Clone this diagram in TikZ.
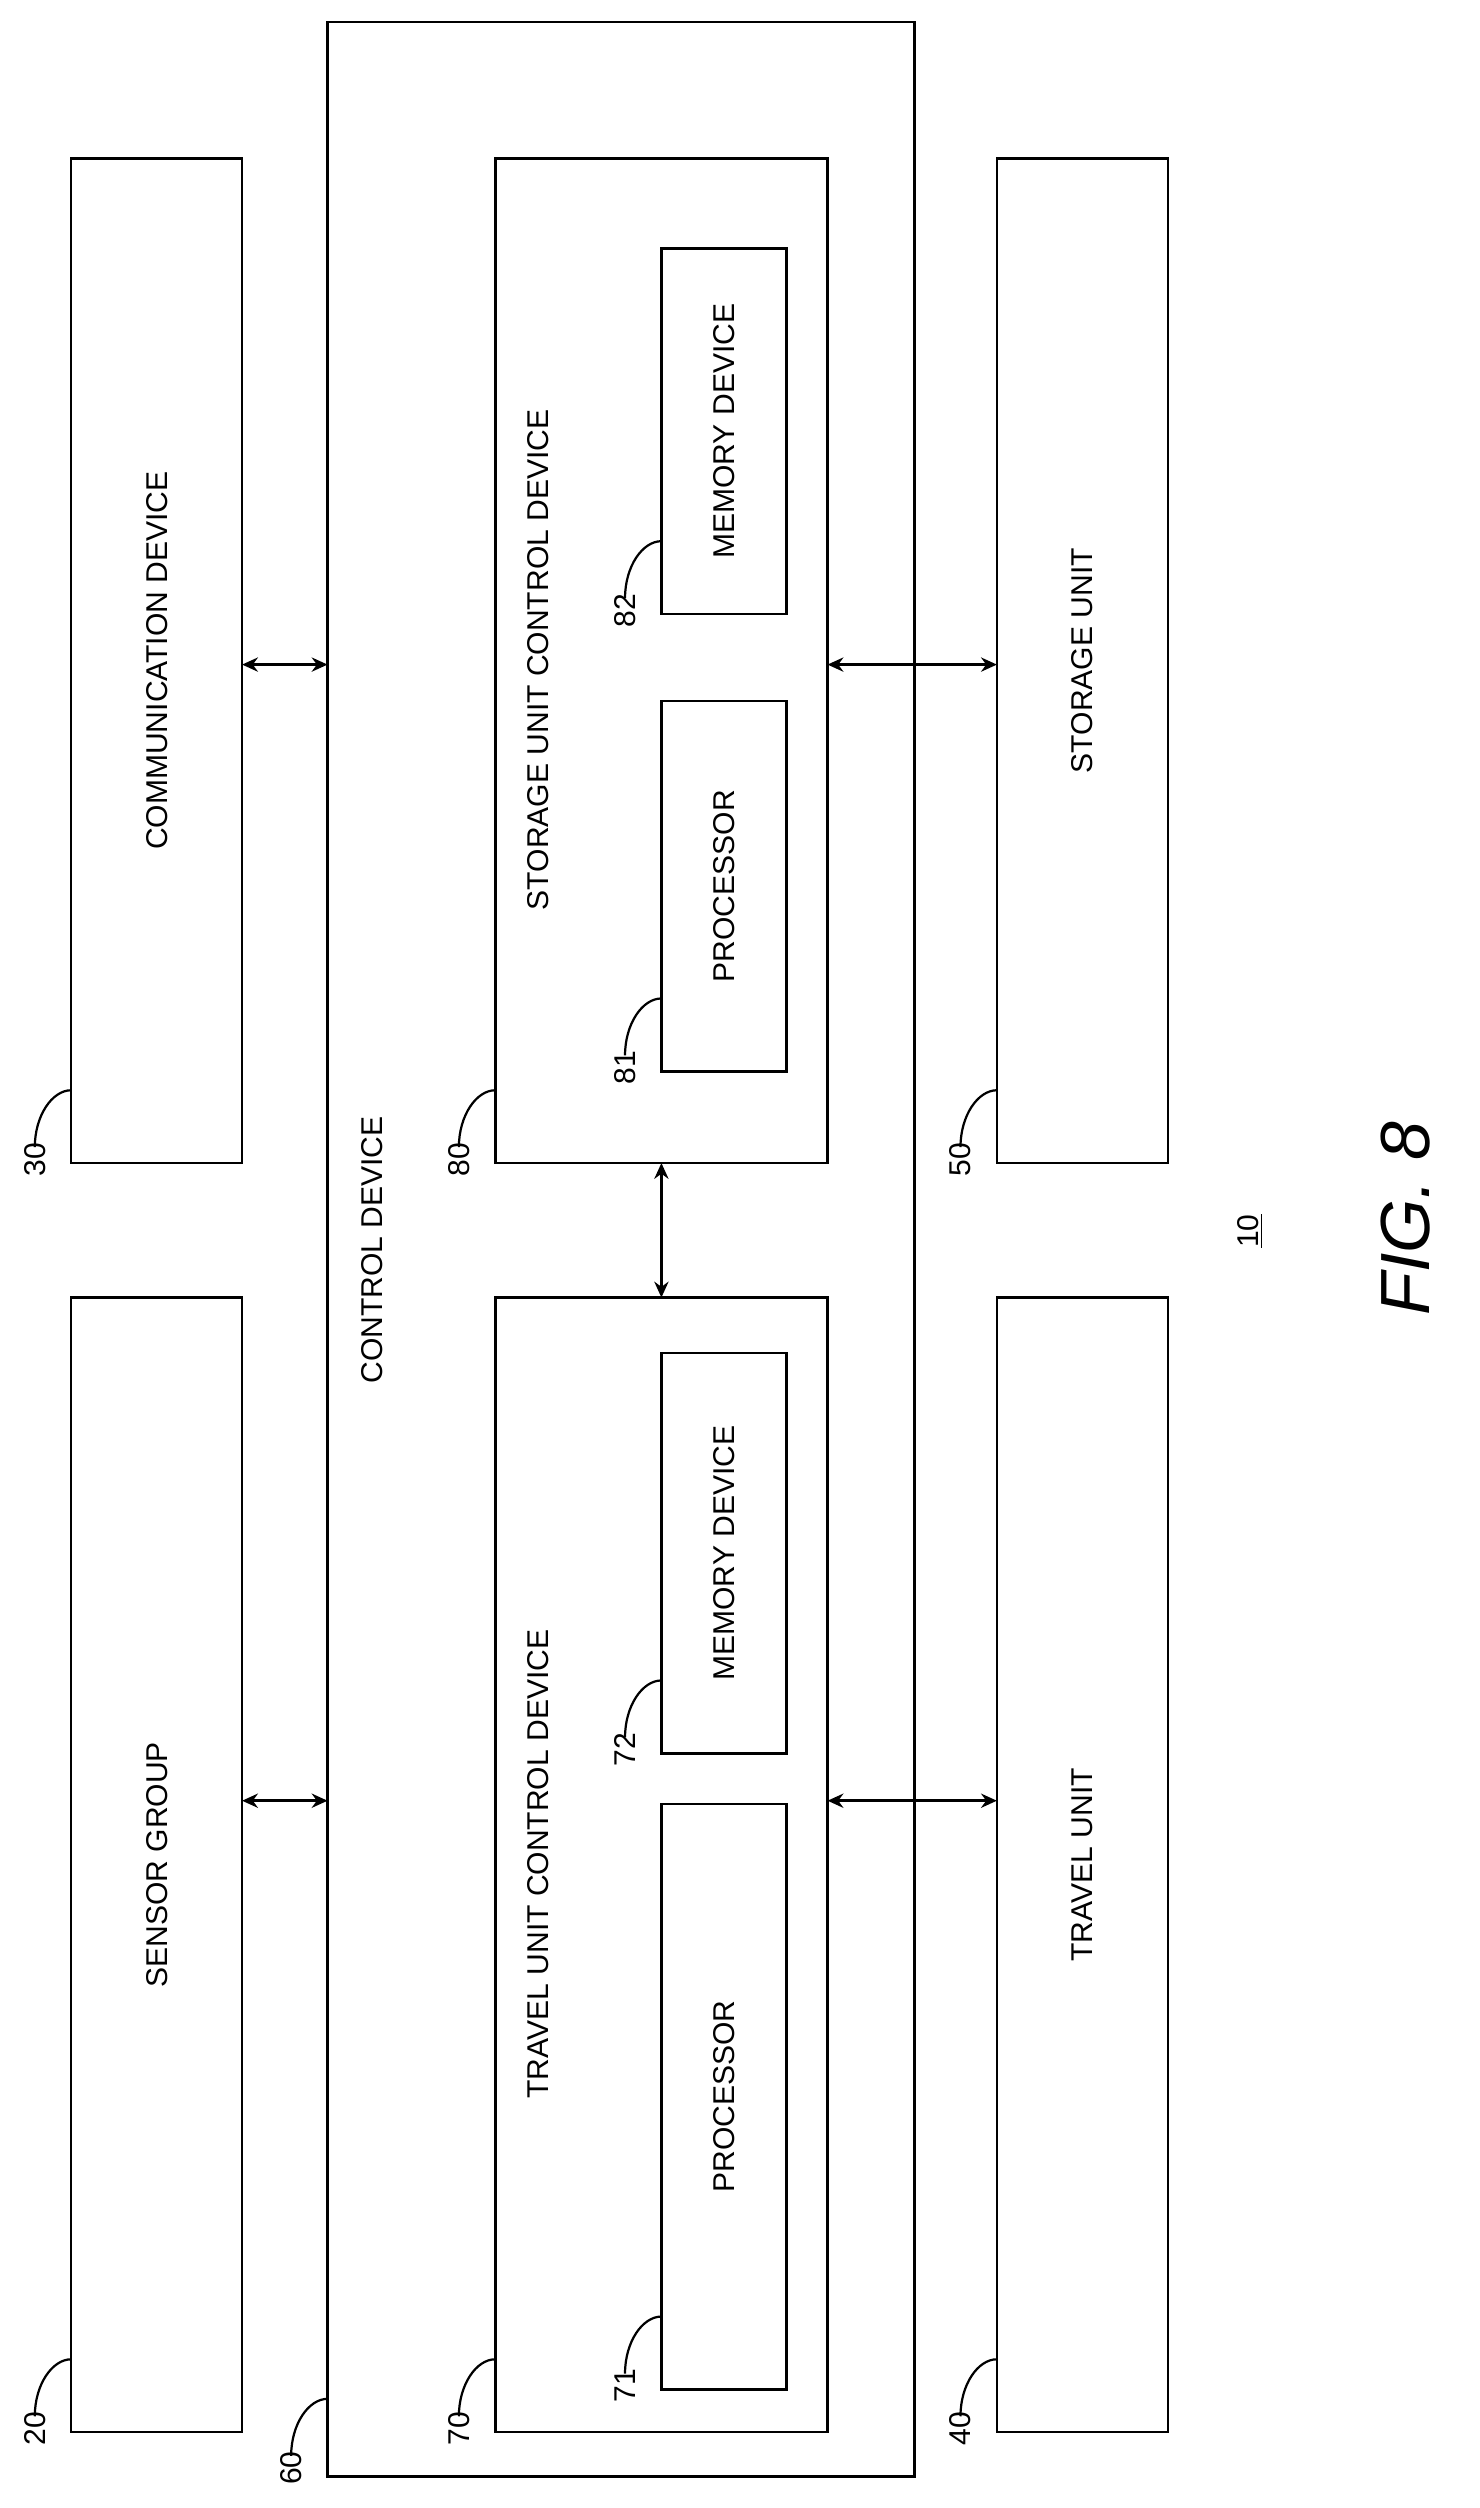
\documentclass[tikz,border=0pt]{standalone}
\usepackage{fontspec}
\setmainfont{Liberation Sans}
\usetikzlibrary{arrows.meta}
\begin{document}
\begin{tikzpicture}[x=1pt,y=-1pt,
 box/.style={draw,line width=1.6pt},
 txt/.style={rotate=90,font=\fontsize{19}{22}\selectfont},
 lbl/.style={rotate=90,font=\fontsize{19}{22}\selectfont,inner sep=1pt},
 arr/.style={{Stealth[length=10pt,width=9pt]}-{Stealth[length=10pt,width=9pt]},line width=1.6pt},
 lead/.style={line width=1.4pt}]
\useasboundingbox (0,0) rectangle (935,1585);
% outer boxes
\node[box,minimum width=108,minimum height=717,inner sep=0] (sg) at (99,1178.5) {};
\node[box,minimum width=108,minimum height=635,inner sep=0] (cd) at (99,417.5) {};
\node[box,minimum width=371,minimum height=1551,inner sep=0] (ctl) at (392.5,789.5) {};
\node[box,minimum width=210,minimum height=717,inner sep=0] (tucd) at (418,1178.5) {};
\node[box,minimum width=210,minimum height=635,inner sep=0] (sucd) at (418,417.5) {};
\node[box,minimum width=79,minimum height=370,inner sep=0] (p71) at (457.5,1325) {};
\node[box,minimum width=79,minimum height=253,inner sep=0] (m72) at (457.5,981.5) {};
\node[box,minimum width=79,minimum height=234,inner sep=0] (p81) at (457.5,560) {};
\node[box,minimum width=79,minimum height=231,inner sep=0] (m82) at (457.5,272.5) {};
\node[box,minimum width=108,minimum height=635,inner sep=0] (su) at (684,417.5) {};
\node[box,minimum width=108,minimum height=717,inner sep=0] (tu) at (684,1178.5) {};
% texts
\node[txt] at (sg) {SENSOR GROUP};
\node[txt] at (cd) {COMMUNICATION DEVICE};
\node[txt] at (235,790) {CONTROL DEVICE};
\node[txt] at (340,1178) {TRAVEL UNIT CONTROL DEVICE};
\node[txt] at (340,417) {STORAGE UNIT CONTROL DEVICE};
\node[txt] at (p71) {PROCESSOR};
\node[txt] at (m72) {MEMORY DEVICE};
\node[txt] at (p81) {PROCESSOR};
\node[txt] at (m82) {MEMORY DEVICE};
\node[txt] at (su) {STORAGE UNIT};
\node[txt] at (tu) {TRAVEL UNIT};
\node[txt] (ten) at (790,778) {\underline{10}};
\node[rotate=90,font=\fontsize{44}{50}\selectfont\itshape] (fig) at (888,770) {FIG. 8};
% arrows
\coordinate (a1) at (153,1138); \coordinate (b1) at (207,1138);
\draw[arr] (a1) -- (b1);
\coordinate (a2) at (153,420); \coordinate (b2) at (207,420);
\draw[arr] (a2) -- (b2);
\coordinate (a3) at (523,1138); \coordinate (b3) at (630,1138);
\draw[arr] (a3) -- (b3);
\coordinate (a4) at (523,420); \coordinate (b4) at (630,420);
\draw[arr] (a4) -- (b4);
\coordinate (a5) at (418,735); \coordinate (b5) at (418,820);
\draw[arr] (a5) -- (b5);
% reference labels with leaders
\foreach \n/\bx/\by in {20/45/1537, 30/45/735, 40/630/1537, 50/630/735,
  60/207/1562, 70/313/1537, 80/313/735, 71/418/1510, 72/418/1108,
  81/418/677, 82/418/388}{
  \node[lbl,anchor=east] (L\n) at (\bx-23,\by-14) {\n};
  \coordinate (E\n) at (\bx,\by-46);
  \draw[lead] ([yshift=-4pt]L\n.east) .. controls ++(0,-20) and ++(-12,0) .. (E\n);
}
\end{tikzpicture}
\end{document}
